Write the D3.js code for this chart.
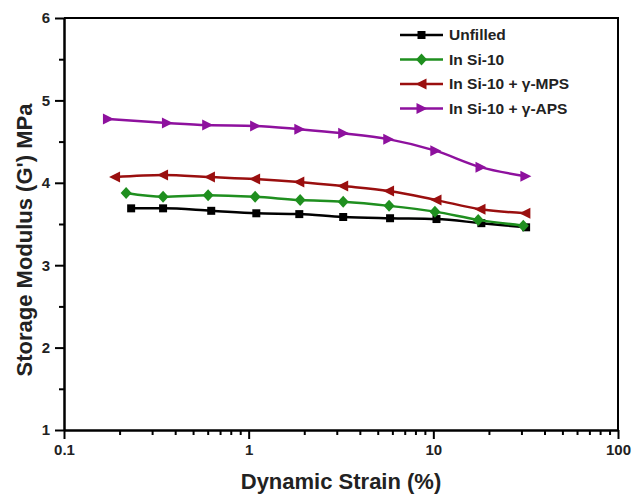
<!DOCTYPE html>
<html>
<head>
<meta charset="utf-8">
<script src="https://cdn.jsdelivr.net/npm/d3@7"></script>
<style>
  body { margin: 0; background: #fff; }
  svg { display: block; font-family: "Liberation Sans", Arial, sans-serif; }
  .axis path, .axis line { stroke: #000; stroke-width: 2px; }
  .axis text { font-size: 15px; font-weight: bold; fill: #222; }
</style>
</head>
<body>
<div id="chart"></div>
<script>
// values
const strainUnfilled = [0.231, 0.344, 0.627, 1.10, 1.88, 3.25, 5.83, 10.4, 18.2, 31.8];
const gUnfilled      = [3.69, 3.69, 3.66, 3.63, 3.62, 3.585, 3.57, 3.56, 3.51, 3.46];

const strainSi10 = [0.217, 0.344, 0.603, 1.084, 1.90, 3.25, 5.76, 10.2, 17.5, 30.7];
const gSi10      = [3.876, 3.83, 3.85, 3.83, 3.79, 3.77, 3.72, 3.65, 3.55, 3.48];

const strainMPS = [0.189, 0.344, 0.617, 1.084, 1.88, 3.25, 5.76, 10.4, 18.0, 31.5];
const gMPS      = [4.07, 4.095, 4.07, 4.046, 4.01, 3.96, 3.90, 3.79, 3.68, 3.63];

const strainAPS = [0.173, 0.361, 0.596, 1.084, 1.88, 3.25, 5.70, 10.25, 18.0, 31.5];
const gAPS      = [4.774, 4.726, 4.70, 4.69, 4.65, 4.60, 4.53, 4.39, 4.19, 4.08];

const seriesNames = ["Unfilled", "In Si-10", "In Si-10 + \u03b3-MPS", "In Si-10 + \u03b3-APS"];
const seriesColors = ["#000000", "#1f8f1f", "#9a0f0f", "#8e119e"];
const seriesShapes = ["square", "diamond", "left", "right"];

const xMajor = [0.1, 1, 10, 100];
const yMajor = [1, 2, 3, 4, 5, 6];

const series = [
  { x: strainUnfilled, y: gUnfilled },
  { x: strainSi10, y: gSi10 },
  { x: strainMPS, y: gMPS },
  { x: strainAPS, y: gAPS }
].map((s, i) => ({
  name: seriesNames[i], color: seriesColors[i], shape: seriesShapes[i],
  points: s.x.map((v, j) => ({ x: v, y: s.y[j] }))
}));

const width = 633, height = 496;
const margin = { top: 18, right: 15, bottom: 66, left: 64 };

const svg = d3.select("#chart").append("svg")
  .attr("width", width)
  .attr("height", height);

const xScale = d3.scaleLog()
  .domain([0.1, 100])
  .range([margin.left, width - margin.right]);

const yScale = d3.scaleLinear()
  .domain([1, 6])
  .range([height - margin.bottom, margin.top]);

// minor ticks
const xMinor = [];
[0.1, 1, 10].forEach(d => { for (let k = 2; k <= 9; k++) xMinor.push(d * k); });
const yMinor = d3.range(1.5, 6, 1);

svg.append("g")
  .attr("class", "axis")
  .attr("transform", `translate(0,${height - margin.bottom})`)
  .call(d3.axisBottom(xScale).tickValues(xMinor).tickFormat("").tickSize(5).tickSizeOuter(0));

svg.append("g")
  .attr("class", "axis")
  .attr("transform", `translate(${margin.left},0)`)
  .call(d3.axisLeft(yScale).tickValues(yMinor).tickFormat("").tickSize(5).tickSizeOuter(0));

svg.append("g")
  .attr("class", "axis")
  .attr("transform", `translate(0,${height - margin.bottom})`)
  .call(d3.axisBottom(xScale).tickValues(xMajor).tickFormat(d => d).tickSize(9).tickSizeOuter(0).tickPadding(5));

svg.append("g")
  .attr("class", "axis")
  .attr("transform", `translate(${margin.left},0)`)
  .call(d3.axisLeft(yScale).tickValues(yMajor).tickFormat(d3.format("d")).tickSize(9).tickSizeOuter(0).tickPadding(5));

// frame top + right
svg.append("path")
  .attr("d", `M${margin.left},${margin.top}H${width - margin.right}V${height - margin.bottom}`)
  .attr("fill", "none")
  .attr("stroke", "#000")
  .attr("stroke-width", 2);

// axis titles
svg.append("text")
  .attr("x", (margin.left + width - margin.right) / 2)
  .attr("y", 489)
  .attr("text-anchor", "middle")
  .style("font-size", "22px")
  .style("font-weight", "bold")
  .attr("fill", "#222")
  .text("Dynamic Strain (%)");

svg.append("text")
  .attr("transform", `translate(32,${(margin.top + height - margin.bottom) / 2 + 16}) rotate(-90)`)
  .attr("text-anchor", "middle")
  .style("font-size", "22px")
  .style("font-weight", "bold")
  .attr("fill", "#222")
  .text("Storage Modulus (G') MPa");

// marker shapes
function markerPath(shape) {
  if (shape === "square") return "M-4,-4H4V4H-4Z";
  if (shape === "diamond") return "M0,-6L5.5,0L0,6L-5.5,0Z";
  if (shape === "left") return "M-6,0L5,-5.5L5,5.5Z";
  return "M6,0L-5,-5.5L-5,5.5Z";
}

const line = d3.line()
  .x(d => xScale(d.x))
  .y(d => yScale(d.y))
  .curve(d3.curveMonotoneX);

const groups = svg.selectAll(".series")
  .data(series)
  .join("g")
  .attr("class", "series");

groups.append("path")
  .attr("fill", "none")
  .attr("stroke", d => d.color)
  .attr("stroke-width", 2.5)
  .attr("d", d => line(d.points));

groups.each(function (s) {
  d3.select(this).selectAll("path.mk")
    .data(s.points)
    .join("path")
    .attr("class", "mk")
    .attr("transform", d => `translate(${xScale(d.x)},${yScale(d.y)})`)
    .attr("d", markerPath(s.shape))
    .attr("fill", s.color);
});

// legend
const legend = svg.append("g").attr("transform", "translate(400,35)");
const item = legend.selectAll("g")
  .data(series)
  .join("g")
  .attr("transform", (d, i) => `translate(0,${i * 24.5})`);

item.append("line")
  .attr("x1", 0).attr("x2", 43)
  .attr("stroke", d => d.color)
  .attr("stroke-width", 2.5);

item.append("path")
  .attr("transform", "translate(21.5,0)")
  .attr("d", d => markerPath(d.shape))
  .attr("fill", d => d.color);

item.append("text")
  .attr("x", 49)
  .attr("dy", "0.35em")
  .style("font-size", "15.5px")
  .style("font-weight", "bold")
  .attr("fill", "#222")
  .text(d => d.name);
</script>
</body>
</html>
